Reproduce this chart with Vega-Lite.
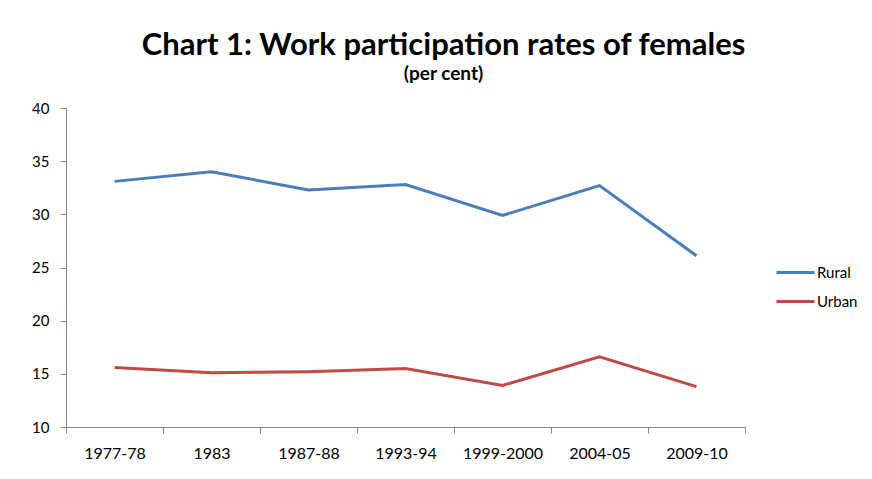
{
  "$schema": "https://vega.github.io/schema/vega-lite/v6.json",
  "autosize": {"type": "none"},
  "width": 679,
  "height": 319,
  "padding": {"left": 66, "top": 108, "right": 127, "bottom": 52},
  "background": "white",
  "config": {
    "view": {"stroke": null},
    "font": "Lato"
  },
  "title": {
    "text": "Chart 1: Work participation rates of females",
    "subtitle": "(per cent)",
    "anchor": "middle",
    "frame": "group",
    "dx": 38,
    "fontSize": 31,
    "fontWeight": "bold",
    "color": "#000000",
    "subtitleFontSize": 19,
    "subtitleFontWeight": "bold",
    "subtitleColor": "#000000",
    "subtitlePadding": 3,
    "offset": 16
  },
  "data": {
    "values": [
      {"year": "1977-78", "area": "Rural", "rate": 33.1},
      {"year": "1983", "area": "Rural", "rate": 34.0},
      {"year": "1987-88", "area": "Rural", "rate": 32.3},
      {"year": "1993-94", "area": "Rural", "rate": 32.8},
      {"year": "1999-2000", "area": "Rural", "rate": 29.9},
      {"year": "2004-05", "area": "Rural", "rate": 32.7},
      {"year": "2009-10", "area": "Rural", "rate": 26.1},
      {"year": "1977-78", "area": "Urban", "rate": 15.6},
      {"year": "1983", "area": "Urban", "rate": 15.1},
      {"year": "1987-88", "area": "Urban", "rate": 15.2},
      {"year": "1993-94", "area": "Urban", "rate": 15.5},
      {"year": "1999-2000", "area": "Urban", "rate": 13.9},
      {"year": "2004-05", "area": "Urban", "rate": 16.6},
      {"year": "2009-10", "area": "Urban", "rate": 13.8}
    ]
  },
  "mark": {"type": "line", "strokeWidth": 3},
  "encoding": {
    "x": {
      "field": "year",
      "type": "ordinal",
      "sort": null,
      "scale": {"type": "band", "paddingInner": 0, "paddingOuter": 0},
      "axis": {
        "title": null,
        "labelAngle": 0,
        "labelFontSize": 16,
        "labelColor": "#000000",
        "labelPadding": 12,
        "domainColor": "#868686",
        "tickColor": "#868686",
        "tickSize": 6,
        "tickBand": "extent",
        "grid": false
      }
    },
    "y": {
      "field": "rate",
      "type": "quantitative",
      "scale": {"domain": [10, 40], "nice": false, "zero": false},
      "axis": {
        "title": null,
        "values": [10, 15, 20, 25, 30, 35, 40],
        "labelFontSize": 15,
        "labelColor": "#000000",
        "labelPadding": 11,
        "domainColor": "#868686",
        "tickColor": "#868686",
        "tickSize": 6,
        "grid": false
      }
    },
    "color": {
      "field": "area",
      "type": "nominal",
      "scale": {"domain": ["Rural", "Urban"], "range": ["#4a7ebb", "#be4b48"]},
      "legend": {
        "title": null,
        "orient": "none",
        "legendX": 709,
        "legendY": 144,
        "padding": 0,
        "symbolType": "stroke",
        "symbolSize": 1444,
        "symbolStrokeWidth": 3,
        "labelFontSize": 15,
        "labelColor": "#000000",
        "rowPadding": -7,
        "labelOffset": 1
      }
    }
  }
}
